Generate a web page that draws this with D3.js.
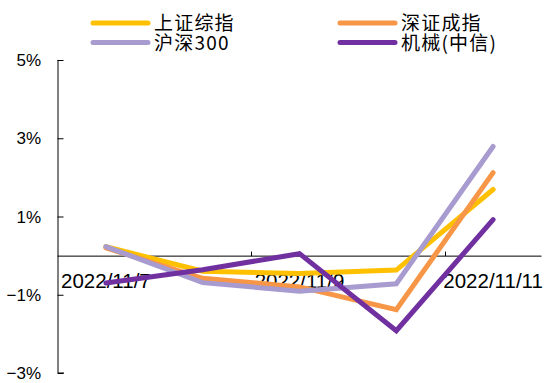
<!DOCTYPE html>
<html><head><meta charset="utf-8">
<script src="https://cdn.jsdelivr.net/npm/d3@7"></script>
<style>body{margin:0;background:#fff}svg{display:block}</style>
</head><body>
<script>
const categories = ['2022/11/7','2022/11/8','2022/11/9','2022/11/10','2022/11/11'];
const xTickLabels = ['2022/11/7','2022/11/9','2022/11/11'];
const yTicks = [-3,-1,1,3,5];
const seriesNames = ['上证综指','深证成指','沪深300','机械(中信)'];
const shIndex = [0.23,-0.40,-0.46,-0.37,1.69];
const szIndex = [0.20,-0.58,-0.80,-1.38,2.12];
const hs300 = [0.23,-0.69,-0.91,-0.72,2.79];
const machinery = [-0.70,-0.36,0.05,-1.92,0.92];
const colors = ['#FFC000','#F79646','#A79BCF','#7030A0'];

const W=547,H=383;
const svg=d3.select('body').append('svg').attr('width',W).attr('height',H);
const x=d3.scaleBand().domain(categories).range([57.5,541.5]).padding(0);
const y=d3.scaleLinear().domain([-3,5]).range([373,60]);
const cx=d=>x(d)+x.bandwidth()/2;

// y axis
const ya=svg.append('g').attr('transform','translate(57.5,0)')
  .call(d3.axisRight(y).tickValues(yTicks).tickSize(6).tickFormat(''));
ya.select('.domain').attr('stroke','#000').attr('d','M0.5,'+y(5)+'V'+y(-3)+'H6.5');
ya.selectAll('.tick line').attr('stroke','#000');
svg.append('g').selectAll('text').data(yTicks).join('text')
  .attr('x',41).attr('y',d=>y(d)+6).attr('text-anchor','end')
  .attr('font-family','Liberation Sans, Arial, sans-serif').attr('font-size',17)
  .text(d=>(d<0?'\u2212'+Math.abs(d):d)+'%');

// x axis
const xa=svg.append('g').attr('transform','translate(0,'+y(0)+')');
xa.append('line').attr('x1',57.5).attr('x2',541.5).attr('y1',0.5).attr('y2',0.5).attr('stroke','#000');
const tickBounds=[categories[2],categories[4]];
xa.selectAll('.xt').data(tickBounds).join('line').attr('class','xt')
  .attr('x1',d=>Math.round(x(d))+0.5).attr('x2',d=>Math.round(x(d))+0.5)
  .attr('y1',0.5).attr('y2',-4).attr('stroke','#000');
svg.append('g').selectAll('text').data(xTickLabels).join('text')
  .attr('x',d=>cx(d)).attr('y',288).attr('text-anchor','middle')
  .attr('font-family','Liberation Sans, Arial, sans-serif').attr('font-size',20.5)
  .text(d=>d);

// lines
const allSeries=[shIndex,szIndex,hs300,machinery];
const line=d3.line().x((d,i)=>cx(categories[i])).y(d=>y(d));
svg.append('g').selectAll('path').data(allSeries).join('path')
  .attr('d',d=>line(d)).attr('fill','none')
  .attr('stroke',(d,i)=>colors[i]).attr('stroke-width',5)
  .attr('stroke-linecap','round').attr('stroke-linejoin','miter');

// legend
const legPos=[[93,23],[340,23],[93,42.5],[340,42.5]];
const lg=svg.append('g').selectAll('g').data(seriesNames).join('g')
  .attr('transform',(d,i)=>'translate('+legPos[i][0]+','+legPos[i][1]+')');
lg.append('line').attr('x1',0).attr('x2',55).attr('y1',0).attr('y2',0)
  .attr('stroke',(d,i)=>colors[i]).attr('stroke-width',5).attr('stroke-linecap','round');
lg.append('text').attr('x',61).attr('y',7)
  .attr('font-family','Noto Sans CJK SC, sans-serif').attr('font-size',19)
  .attr('letter-spacing',1.2).text(d=>d);
</script>
</body></html>
